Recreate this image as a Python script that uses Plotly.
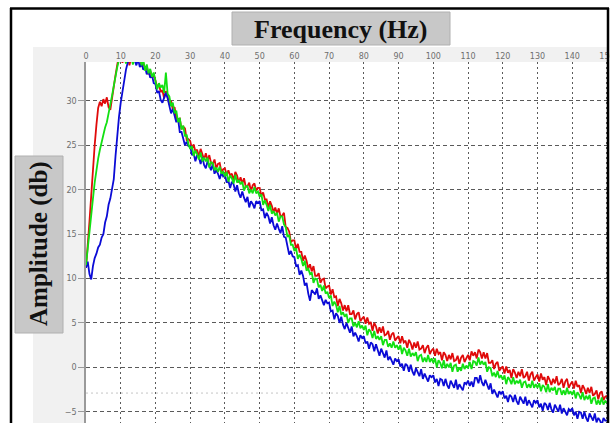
import numpy as np
import plotly.graph_objects as go

# Spectrum sampled every 0.5 Hz from 0 to 150 Hz
freq_hz = np.arange(0, 150.5, 0.5)

red_db = [
    11.2, 13.5, 16.4, 19.3, 22.5, 25.0, 27.3, 29.2, 29.9, 29.4, 30.2, 29.7, 30.4, 29.3, 29.0, 30.1, 31.6, 32.9, 34.1, 35.2,
    35.0, 34.3, 35.2, 34.6, 35.3, 34.0, 34.8, 35.2, 34.5, 35.0, 34.3, 34.8, 33.9, 34.3, 33.5, 33.9, 33.0, 33.4, 32.6, 32.9,
    32.3, 31.5, 31.9, 31.0, 31.2, 30.3, 31.1, 30.5, 29.6, 30.0, 29.0, 29.3, 28.1, 27.9, 28.0, 26.8, 27.1, 26.9, 25.6, 25.7,
    25.5, 24.6, 25.1, 24.3, 24.5, 23.7, 24.6, 24.0, 23.4, 24.1, 23.3, 23.9, 23.0, 22.9, 23.4, 22.4, 22.9, 23.0, 22.0, 22.3,
    22.4, 21.6, 22.2, 21.6, 21.8, 21.0, 22.0, 21.6, 20.8, 21.4, 20.7, 21.3, 20.3, 20.4, 20.8, 19.8, 20.5, 20.7, 19.9, 20.2,
    20.2, 19.3, 19.7, 18.9, 18.9, 18.0, 18.7, 18.2, 17.5, 18.0, 17.3, 17.9, 17.0, 17.1, 17.4, 15.8, 15.7, 15.3, 14.1, 14.3,
    14.3, 13.3, 13.9, 13.0, 13.0, 12.0, 12.6, 12.0, 11.1, 11.6, 10.8, 11.4, 10.3, 10.3, 10.6, 9.5, 9.9, 10.0, 8.9, 9.1,
    9.2, 8.2, 8.8, 7.9, 8.0, 6.9, 7.7, 7.2, 6.4, 7.0, 6.3, 7.0, 6.0, 6.0, 6.4, 5.4, 6.0, 6.2, 5.2, 5.5,
    5.7, 4.9, 5.6, 4.9, 5.1, 4.1, 5.0, 4.6, 3.8, 4.5, 3.9, 4.6, 3.6, 3.7, 4.1, 3.1, 3.7, 3.9, 3.0, 3.3,
    3.5, 2.7, 3.5, 2.8, 3.0, 2.2, 3.1, 2.7, 2.0, 2.8, 2.2, 2.9, 2.0, 2.1, 2.5, 1.6, 2.2, 2.5, 1.5, 1.9,
    2.1, 1.3, 2.1, 1.5, 1.7, 0.8, 1.7, 1.4, 0.7, 1.4, 0.9, 1.6, 0.7, 0.8, 1.3, 0.4, 1.1, 1.4, 0.6, 1.0,
    1.4, 0.8, 1.8, 1.3, 1.7, 1.0, 2.0, 1.7, 1.0, 1.7, 1.0, 1.6, 0.5, 0.5, 0.8, -0.2, 0.4, 0.6, -0.4, -0.1,
    0.1, -0.7, 0.1, -0.6, -0.3, -1.2, -0.2, -0.6, -1.2, -0.5, -1.0, -0.2, -1.2, -1.0, -0.5, -1.5, -0.8, -0.5, -1.5, -1.1,
    -0.8, -1.6, -0.7, -1.4, -1.1, -2.0, -1.0, -1.4, -2.0, -1.3, -1.8, -1.0, -2.0, -1.8, -1.3, -2.3, -1.6, -1.3, -2.3, -1.9,
    -1.6, -2.4, -1.5, -2.2, -2.0, -2.9, -2.0, -2.4, -3.0, -2.3, -2.9, -2.2, -3.2, -3.0, -2.6, -3.6, -2.9, -2.7, -3.7, -3.3,
    -3.2,
]

green_db = [
    11.5, 13.6, 15.3, 17.0, 19.0, 20.8, 22.3, 23.5, 24.5, 25.4, 26.3, 27.0, 27.6, 28.5, 29.4, 30.6, 31.7, 32.9, 33.8, 34.6,
    35.0, 34.4, 35.1, 34.2, 35.3, 34.6, 35.0, 34.1, 34.9, 35.2, 34.4, 35.0, 34.0, 34.6, 33.4, 34.1, 33.1, 33.6, 32.7, 33.2,
    32.2, 31.3, 32.0, 31.5, 31.8, 30.9, 33.2, 30.8, 30.5, 29.4, 29.8, 28.6, 28.9, 27.6, 28.1, 26.8, 27.2, 26.0, 26.2, 25.1,
    24.6, 24.9, 23.8, 24.4, 24.0, 23.4, 24.2, 23.2, 23.6, 23.2, 23.6, 22.5, 23.1, 23.0, 22.2, 22.5, 22.0, 22.6, 21.8, 22.0,
    21.5, 22.0, 20.9, 21.6, 21.3, 20.7, 21.7, 20.8, 21.1, 20.6, 20.9, 19.9, 20.4, 20.4, 19.6, 20.0, 19.6, 20.3, 19.6, 19.8,
    19.2, 19.5, 18.3, 18.8, 18.3, 17.6, 18.3, 17.3, 17.6, 17.1, 17.4, 16.4, 17.0, 17.0, 16.1, 15.8, 14.7, 14.9, 13.8, 13.8,
    13.1, 13.4, 12.2, 12.7, 12.2, 11.4, 12.0, 10.9, 11.1, 10.5, 10.7, 9.5, 10.0, 9.9, 9.0, 9.3, 8.6, 9.2, 8.3, 8.5,
    7.8, 8.1, 6.9, 7.4, 7.0, 6.2, 6.9, 5.9, 6.2, 5.7, 6.0, 5.0, 5.5, 5.5, 4.6, 5.0, 4.5, 5.2, 4.4, 4.7,
    4.2, 4.7, 3.6, 4.3, 4.0, 3.3, 4.1, 3.2, 3.5, 3.1, 3.5, 2.5, 3.1, 3.1, 2.3, 2.7, 2.2, 2.9, 2.2, 2.5,
    2.0, 2.5, 1.5, 2.2, 1.9, 1.3, 2.1, 1.2, 1.6, 1.3, 1.7, 0.7, 1.3, 1.4, 0.6, 1.1, 0.6, 1.4, 0.6, 1.0,
    0.5, 1.0, 0.0, 0.8, 0.5, -0.1, 0.8, -0.1, 0.4, 0.0, 0.5, -0.5, 0.2, 0.3, -0.5, 0.0, -0.4, 0.4, -0.2, 0.2,
    -0.1, 0.6, -0.2, 0.7, 0.6, 0.2, 1.1, 0.3, 0.7, 0.3, 0.6, -0.5, 0.0, -0.1, -1.0, -0.6, -1.1, -0.4, -1.2, -0.9,
    -1.4, -0.9, -1.9, -1.1, -1.4, -1.9, -1.1, -1.9, -1.5, -1.8, -1.4, -2.3, -1.7, -1.6, -2.3, -1.9, -2.3, -1.5, -2.3, -1.9,
    -2.3, -1.8, -2.7, -2.0, -2.2, -2.8, -1.9, -2.8, -2.3, -2.6, -2.2, -3.1, -2.4, -2.4, -3.1, -2.6, -3.1, -2.3, -3.0, -2.7,
    -3.1, -2.6, -3.5, -2.8, -3.1, -3.6, -2.8, -3.7, -3.2, -3.6, -3.1, -4.1, -3.5, -3.4, -4.2, -3.7, -4.2, -3.4, -4.2, -3.8,
    -4.0,
]

blue_db = [
    11.2, 11.9, 10.5, 9.9, 11.4, 12.3, 12.8, 13.5, 13.8, 14.6, 15.0, 16.3, 17.0, 18.3, 19.0, 20.3, 21.2, 23.8, 26.3, 28.2,
    29.8, 31.2, 32.5, 33.5, 34.3, 35.0, 34.4, 35.1, 34.6, 34.0, 34.7, 33.8, 34.2, 33.5, 33.8, 33.0, 33.4, 32.6, 32.9, 32.0,
    31.9, 30.9, 31.1, 30.1, 29.8, 30.4, 30.9, 30.3, 29.3, 28.6, 29.1, 28.3, 27.6, 28.0, 26.5, 26.5, 25.8, 25.0, 25.4, 24.9,
    24.9, 23.9, 24.1, 23.2, 23.9, 23.7, 22.9, 23.7, 22.8, 22.4, 23.2, 22.6, 22.2, 22.9, 21.8, 22.2, 21.8, 21.2, 21.9, 21.5,
    21.7, 20.8, 21.0, 20.2, 20.9, 20.6, 19.8, 20.5, 19.6, 19.1, 19.8, 19.1, 18.6, 19.2, 18.0, 18.7, 18.4, 17.9, 18.7, 18.5,
    18.7, 17.7, 17.8, 16.8, 17.4, 17.0, 16.2, 16.9, 16.0, 15.5, 16.2, 15.6, 15.1, 15.9, 14.7, 14.6, 13.7, 12.7, 13.1, 12.5,
    12.4, 11.4, 11.5, 10.4, 10.9, 10.3, 9.2, 9.5, 8.3, 7.5, 8.7, 8.4, 8.2, 8.9, 7.7, 8.1, 7.6, 7.0, 7.6, 7.2,
    7.3, 6.3, 6.4, 5.4, 6.1, 5.8, 5.0, 5.7, 4.8, 4.3, 5.0, 4.4, 3.9, 4.6, 3.5, 3.9, 3.5, 2.9, 3.6, 3.3,
    3.5, 2.7, 2.9, 2.1, 2.8, 2.6, 1.8, 2.6, 1.8, 1.3, 2.1, 1.6, 1.1, 1.9, 0.8, 1.2, 0.8, 0.3, 1.0, 0.7,
    0.9, 0.1, 0.4, -0.4, 0.4, 0.2, -0.5, 0.3, -0.5, -0.9, -0.1, -0.6, -1.0, -0.2, -1.3, -0.7, -1.1, -1.6, -0.9, -1.1,
    -0.9, -1.7, -1.3, -2.1, -1.3, -1.4, -2.1, -1.3, -2.0, -2.4, -1.5, -2.0, -2.3, -1.4, -2.5, -1.9, -2.2, -2.6, -1.7, -1.9,
    -1.5, -2.1, -1.6, -2.2, -1.2, -1.2, -1.8, -0.9, -1.7, -2.1, -1.4, -2.0, -2.5, -1.8, -3.0, -2.5, -2.9, -3.4, -2.7, -3.0,
    -2.7, -3.5, -3.2, -3.9, -3.1, -3.3, -3.9, -3.1, -3.8, -4.2, -3.3, -3.8, -4.1, -3.3, -4.3, -3.7, -4.1, -4.5, -3.7, -4.0,
    -3.7, -4.5, -4.1, -4.9, -4.0, -4.2, -4.8, -4.0, -4.7, -5.1, -4.2, -4.7, -5.0, -4.2, -5.2, -4.6, -5.0, -5.4, -4.7, -4.9,
    -4.6, -5.4, -5.0, -5.8, -5.0, -5.1, -5.8, -5.0, -5.7, -6.1, -5.2, -5.7, -6.0, -5.2, -6.2, -5.7, -6.0, -6.5, -5.7, -6.0,
    -6.0,
]

x_ticks = list(range(0, 151, 10))
y_ticks = [-5, 0, 5, 10, 15, 20, 25, 30]

W, H = 610, 423
ML, MR, MT, MB = 86, 2, 48, 0
PLOT_TOP = 62  # pixel row where the data area begins


def px(x):
    return (x - ML) / (W - ML - MR)


def py(y):
    return (H - MB - y) / (H - MT - MB)


fig = go.Figure()

for values, color in [(red_db, "#e00a0a"), (blue_db, "#0b0bd6"), (green_db, "#12e012")]:
    fig.add_trace(go.Scatter(
        x=freq_hz, y=values, mode="lines",
        line=dict(color=color, width=1.8),
        hoverinfo="skip",
    ))

tick_font = dict(family="DejaVu Sans", size=8, color="#6e6e6e")
x_range = [0, 150.3]

fig.update_layout(
    width=W, height=H,
    margin=dict(l=ML, r=MR, t=MT, b=MB, pad=0, autoexpand=False),
    paper_bgcolor="white",
    plot_bgcolor="white",
    showlegend=False,
    xaxis=dict(
        side="top", range=x_range, tickvals=x_ticks,
        showline=False, ticks="", tickfont=tick_font,
        ticklabeloverflow="allow", automargin=False,
        showgrid=True, gridcolor="#5a5a5a", gridwidth=1, griddash="2px,3px",
        zeroline=False,
    ),
    xaxis2=dict(
        overlaying="x", anchor="free", position=1, side="top",
        range=x_range, tickvals=x_ticks, showticklabels=False,
        showline=True, linecolor="#9a9a9a", linewidth=1.5,
        ticks="outside", ticklen=3, tickcolor="#9a9a9a",
        showgrid=False, zeroline=False, automargin=False,
    ),
    xaxis3=dict(
        overlaying="x", anchor="free", position=1, side="top",
        range=x_range, tickvals=x_ticks, showticklabels=False,
        showline=False, ticks="inside", ticklen=3, tickcolor="#9a9a9a",
        showgrid=False, zeroline=False, automargin=False,
    ),
    yaxis=dict(
        domain=[0, py(PLOT_TOP)], range=[-6.27, 34.38], tickvals=y_ticks,
        showline=True, linecolor="#9a9a9a", linewidth=1.5,
        ticks="outside", ticklen=6, tickcolor="#9a9a9a", tickfont=tick_font,
        showgrid=True, gridcolor="#5a5a5a", gridwidth=1, griddash="4px,3px",
        zeroline=False, automargin=False,
    ),
)

# faint reference line just below zero
fig.add_hline(y=-2.9, line=dict(color="#c4c4c4", width=1, dash="2px,3px"), layer="below")

shapes = [
    # light grey axis bands
    dict(type="rect", xref="paper", yref="paper", x0=px(33), x1=px(607), y0=py(62), y1=py(47),
         fillcolor="#f1f1f1", line=dict(width=0), layer="below"),
    dict(type="rect", xref="paper", yref="paper", x0=px(33), x1=px(84), y0=py(423), y1=py(62),
         fillcolor="#f1f1f1", line=dict(width=0), layer="below"),
    # title boxes
    dict(type="rect", xref="paper", yref="paper", x0=px(232), x1=px(450), y0=py(45), y1=py(12),
         fillcolor="#c8c8c8", line=dict(color="#b0b0b0", width=1), layer="above"),
    dict(type="rect", xref="paper", yref="paper", x0=px(15), x1=px(63), y0=py(333), y1=py(156),
         fillcolor="#c8c8c8", line=dict(color="#b0b0b0", width=1), layer="above"),
    # outer black frame
    dict(type="line", xref="paper", yref="paper", x0=px(11), x1=px(11), y0=py(423), y1=py(8),
         line=dict(color="black", width=2.5), layer="above"),
    dict(type="line", xref="paper", yref="paper", x0=px(10), x1=px(609), y0=py(8.5), y1=py(8.5),
         line=dict(color="black", width=2.5), layer="above"),
    dict(type="line", xref="paper", yref="paper", x0=px(608), x1=px(608), y0=py(423), y1=py(8),
         line=dict(color="black", width=2.5), layer="above"),
]
for s in shapes:
    fig.add_shape(**s)

fig.add_annotation(
    text="<b>Frequency (Hz)</b>", xref="paper", yref="paper",
    x=px(341), y=py(29), xanchor="center", yanchor="middle",
    showarrow=False, font=dict(family="Liberation Serif", size=26, color="#111111"),
)
fig.add_annotation(
    text="<b>Amplitude (db)</b>", xref="paper", yref="paper",
    x=px(39), y=py(244), xanchor="center", yanchor="middle",
    showarrow=False, font=dict(family="Liberation Serif", size=25, color="#111111"),
    textangle=-90,
)

fig.write_html("out.html")
